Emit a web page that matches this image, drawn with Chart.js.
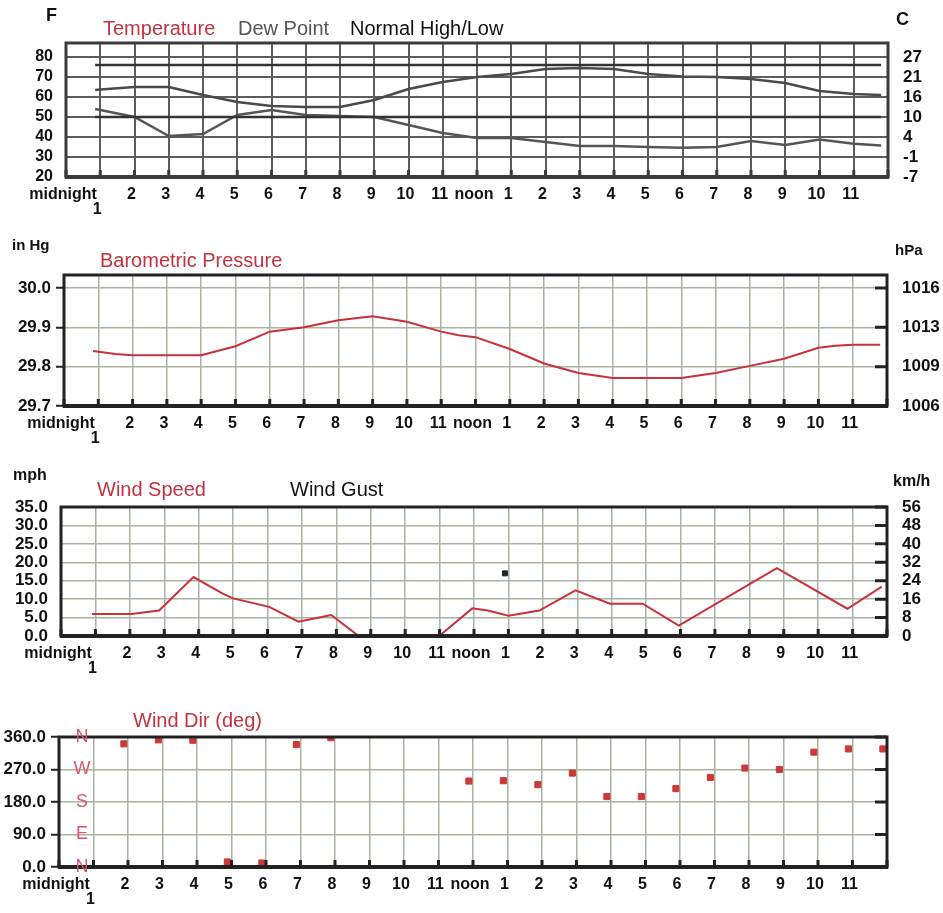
<!DOCTYPE html>
<html>
<head>
<meta charset="utf-8">
<title>Daily weather</title>
<script src="https://cdn.jsdelivr.net/npm/chart.js@4.4.1/dist/chart.umd.min.js"></script>
<style>
  body { margin: 0; background: #fff; }
  #page { position: relative; width: 943px; height: 913px; overflow: hidden; font-family: "Liberation Sans", Arial, sans-serif; }
  canvas { position: absolute; left: 0; }
  .lbl { position: absolute; white-space: nowrap; line-height: 1; }
  .unit { font-weight: bold; color: #111; }
  .red { color: #c2323f; }
</style>
</head>
<body>
<div id="page">
  <canvas id="temp" width="943" height="225" style="top:0px"></canvas>
  <canvas id="baro" width="943" height="225" style="top:230px"></canvas>
  <canvas id="wind" width="943" height="225" style="top:462px"></canvas>
  <canvas id="dir" width="943" height="221" style="top:692px"></canvas>

  <div class="lbl unit" style="left:46px;top:6px;font-size:18px">F</div>
  <div class="lbl red" style="left:103px;top:18px;font-size:20px">Temperature</div>
  <div class="lbl" style="left:238px;top:18px;font-size:20px;color:#555">Dew Point</div>
  <div class="lbl" style="left:350px;top:18px;font-size:20px;color:#111">Normal High/Low</div>
  <div class="lbl unit" style="left:896px;top:10px;font-size:18px">C</div>

  <div class="lbl unit" style="left:12px;top:237px;font-size:15px">in Hg</div>
  <div class="lbl red" style="left:100px;top:250px;font-size:20px">Barometric Pressure</div>
  <div class="lbl unit" style="left:895px;top:242px;font-size:15px">hPa</div>

  <div class="lbl unit" style="left:13px;top:467px;font-size:16px">mph</div>
  <div class="lbl red" style="left:97px;top:479px;font-size:20px">Wind Speed</div>
  <div class="lbl" style="left:290px;top:479px;font-size:20px;color:#111">Wind Gust</div>
  <div class="lbl unit" style="left:893px;top:473px;font-size:16px">km/h</div>

  <div class="lbl red" style="left:133px;top:710px;font-size:20px">Wind Dir (deg)</div>
</div>
<script>
// x axis: hours from midnight
const HOUR_LABELS = ['midnight', ['', '1'], '2', '3', '4', '5', '6', '7', '8', '9', '10', '11',
  'noon', '1', '2', '3', '4', '5', '6', '7', '8', '9', '10', '11', ''];

// temperature (F)
const TEMP_HOURS = [0.85, 1, 2, 3, 4, 5, 6, 7, 8, 9, 10, 11, 12, 13, 14, 15, 16, 17, 18, 19, 20, 21, 22, 23, 23.8];
const TEMPERATURE = [63.5, 63.8, 65, 65, 61, 57.5, 55.5, 55, 55, 58.5, 64, 67.5, 70, 71.5, 74, 74.5, 74, 71.5, 70.3, 70, 69, 67, 63, 61.5, 61];
const DEW_POINT = [54, 53.5, 50, 40.5, 41.5, 51, 53.5, 51, 50.5, 50, 46, 42, 39.5, 39.5, 37.5, 35.5, 35.5, 35, 34.6, 35, 38, 36, 38.8, 36.6, 35.8];
const NORMAL_HOURS = [0.85, 23.8];
const NORMAL_HIGH = [76, 76];
const NORMAL_LOW = [50, 50];
const TEMP_TICKS_F = [20, 30, 40, 50, 60, 70, 80];
const TEMP_TICKS_C = ['-7', '-1', '4', '10', '16', '21', '27'];

// barometric pressure (in Hg)
const BARO_HOURS = [0.85, 1.5, 2, 3, 4, 5, 6, 7, 8, 9, 10, 11, 11.5, 12, 13, 14, 15, 16, 17, 18, 19, 20, 21, 22, 22.5, 23, 23.8];
const BARO_INHG = [29.840, 29.832, 29.829, 29.829, 29.829, 29.852, 29.889, 29.900, 29.918, 29.928, 29.914, 29.889, 29.880,
  29.875, 29.845, 29.808, 29.784, 29.771, 29.771, 29.771, 29.784, 29.802, 29.820, 29.848, 29.853, 29.856, 29.856];
const BARO_TICKS = [29.7, 29.8, 29.9, 30.0];
const BARO_LABELS = ['29.7', '29.8', '29.9', '30.0'];
const HPA_LABELS = ['1006', '1009', '1013', '1016'];

// wind speed / gust (mph)
const WIND_HOURS = [0.9, 2.05, 2.85, 3.85, 4.7, 5, 6.05, 6.9, 7.5, 7.85, 8.65, 9.5, 11.05, 11.95, 12.4, 13, 13.9, 14.95, 15.95, 16.9, 17.95, 20.8, 22.85, 23.85];
const WIND_SPEED = [6, 6, 6.9, 16, 11.5, 10.2, 7.9, 3.9, 5, 5.7, 0, null, 0.5, 7.5, 6.9, 5.5, 6.9, 12.4, 8.75, 8.75, 2.8, 18.4, 7.4, 13.4];
const GUST_HOURS = [12.9];
const WIND_GUST = [17];
const MPH_TICKS = [0, 5, 10, 15, 20, 25, 30, 35];
const MPH_LABELS = ['0.0', '5.0', '10.0', '15.0', '20.0', '25.0', '30.0', '35.0'];
const KMH_LABELS = ['0', '8', '16', '24', '32', '40', '48', '56'];

// wind direction (deg)
const DIR_HOURS = [1.88, 2.88, 3.88, 4.88, 5.88, 6.88, 7.88, 11.88, 12.88, 13.88, 14.88, 15.88, 16.88, 17.88, 18.88, 19.88, 20.88, 21.88, 22.88, 23.88];
const WIND_DIR = [341, 352, 351, 14, 11, 339, 358, 238, 239, 228, 260, 195, 195, 217, 248, 274, 270, 318, 327, 327];
const DIR_TICKS = [0, 90, 180, 270, 360];
const DIR_LABELS = ['0.0', '90.0', '180.0', '270.0', '360.0'];
const COMPASS = ['N', 'E', 'S', 'W', 'N'];

Chart.defaults.font.family = '"Liberation Sans", Arial, sans-serif';
Chart.defaults.color = '#111';

const RED = '#c8303a';
const GREEN_GRID = '#a9b4a0';

function points(xs, ys) {
  return xs.map((x, i) => ({ x: x, y: ys[i] }));
}

// dark frame round the plot + little notches on the bottom (and right) edge
const framePlugin = {
  id: 'frame',
  afterDraw(chart, args, opts) {
    const { ctx, chartArea: a, scales } = chart;
    ctx.save();
    ctx.strokeStyle = opts.color;
    ctx.lineWidth = opts.width;
    ctx.strokeRect(a.left, a.top, a.right - a.left, a.bottom - a.top);
    ctx.lineWidth = 4;
    ctx.beginPath();
    ctx.moveTo(a.left - 1, a.bottom);
    ctx.lineTo(a.right + 1, a.bottom);
    ctx.stroke();
    ctx.lineWidth = 3;
    ctx.beginPath();
    scales.x.ticks.forEach(t => {
      const px = scales.x.getPixelForValue(t.value);
      ctx.moveTo(px, a.bottom);
      ctx.lineTo(px, a.bottom - 7);
    });
    if (opts.rightNotches) {
      scales.y.ticks.forEach(t => {
        const py = scales.y.getPixelForValue(t.value);
        ctx.moveTo(a.right, py);
        ctx.lineTo(a.right - 12, py);
      });
    }
    ctx.stroke();
    ctx.restore();
  }
};

const compassPlugin = {
  id: 'compass',
  afterDraw(chart) {
    const { ctx, chartArea: a, scales } = chart;
    ctx.save();
    ctx.fillStyle = '#d9556b';
    ctx.font = '18px "Liberation Sans", Arial, sans-serif';
    ctx.textAlign = 'center';
    ctx.textBaseline = 'middle';
    DIR_TICKS.forEach((v, i) => {
      ctx.fillText(COMPASS[i], a.left + 23, scales.y.getPixelForValue(v));
    });
    ctx.restore();
  }
};

function hourAxis(height, gridColor, gridWidth) {
  return {
    type: 'linear', min: 0, max: 24,
    afterBuildTicks: s => { s.ticks = HOUR_LABELS.map((_, i) => ({ value: i })); },
    afterFit: s => { s.height = height; },
    grid: { color: gridColor, lineWidth: gridWidth, drawTicks: false },
    border: { display: false },
    ticks: {
      autoSkip: false, maxRotation: 0, minRotation: 0, padding: 10, labelOffset: -3,
      font: { size: 16, weight: 'bold', lineHeight: 0.95 },
      callback: (v, i) => HOUR_LABELS[i]
    }
  };
}

function leftAxis(width, min, max, values, labels, grid, tickMarks, fontSize) {
  return {
    position: 'left', min: min, max: max,
    afterBuildTicks: s => { s.ticks = values.map(v => ({ value: v })); },
    afterFit: s => { s.width = width; },
    grid: Object.assign({ drawTicks: tickMarks, tickLength: 8, tickColor: '#222', tickWidth: 2 }, grid),
    border: { display: false },
    ticks: {
      autoSkip: false,
      padding: tickMarks ? 5 : 13,
      font: { size: fontSize, weight: 'bold' },
      callback: (v, i) => labels[i]
    }
  };
}

function rightAxis(width, min, max, values, labels) {
  return {
    position: 'right', min: min, max: max,
    afterBuildTicks: s => { s.ticks = values.map(v => ({ value: v })); },
    afterFit: s => { s.width = width; },
    grid: { drawOnChartArea: false, drawTicks: false },
    border: { display: false },
    ticks: {
      autoSkip: false,
      padding: 15,
      font: { size: 17, weight: 'bold' },
      callback: (v, i) => labels[i]
    }
  };
}

function baseOptions(top, right, scales, frame) {
  return {
    responsive: false,
    animation: false,
    layout: { padding: { top: top, left: 0, right: right, bottom: 0 } },
    elements: { point: { radius: 0 }, line: { tension: 0 } },
    plugins: { legend: { display: false }, tooltip: { enabled: false }, frame: frame },
    scales: scales
  };
}

// Temperature
new Chart(document.getElementById('temp'), {
  type: 'line',
  data: {
    datasets: [
      { label: 'Normal High', data: points(NORMAL_HOURS, NORMAL_HIGH), borderColor: '#333', borderWidth: 2.5 },
      { label: 'Normal Low', data: points(NORMAL_HOURS, NORMAL_LOW), borderColor: '#333', borderWidth: 2.5 },
      { label: 'Dew Point', data: points(TEMP_HOURS, DEW_POINT), borderColor: '#555', borderWidth: 2.5 },
      { label: 'Temperature', data: points(TEMP_HOURS, TEMPERATURE), borderColor: '#4a4a4a', borderWidth: 2.5 }
    ]
  },
  options: baseOptions(43, 0, {
    x: hourAxis(48, '#5c5c5c', 2),
    y: leftAxis(66, 20, 87, TEMP_TICKS_F, TEMP_TICKS_F.map(String), { color: '#5c5c5c', lineWidth: 2 }, false, 16),
    yC: rightAxis(55, 20, 87, TEMP_TICKS_F, TEMP_TICKS_C)
  }, { color: '#3a3a3a', width: 3, rightNotches: false }),
  plugins: [framePlugin]
});

// Barometric pressure
new Chart(document.getElementById('baro'), {
  type: 'line',
  data: {
    datasets: [
      { label: 'Barometric Pressure', data: points(BARO_HOURS, BARO_INHG), borderColor: RED, borderWidth: 2 }
    ]
  },
  options: baseOptions(45, 0, {
    x: hourAxis(49, GREEN_GRID, 1.5),
    y: leftAxis(64, 29.7, 30.033, BARO_TICKS, BARO_LABELS, { color: GREEN_GRID, lineWidth: 1.5 }, true, 17),
    yH: rightAxis(56, 29.7, 30.033, BARO_TICKS, HPA_LABELS)
  }, { color: '#222', width: 3, rightNotches: true }),
  plugins: [framePlugin]
});

// Wind speed / gust
new Chart(document.getElementById('wind'), {
  type: 'line',
  data: {
    datasets: [
      { label: 'Wind Speed', data: points(WIND_HOURS, WIND_SPEED), borderColor: RED, borderWidth: 2, spanGaps: false },
      { label: 'Wind Gust', data: points(GUST_HOURS, WIND_GUST), showLine: false, pointStyle: 'rect',
        pointRadius: 3.5, backgroundColor: '#222', borderColor: '#222' }
    ]
  },
  options: baseOptions(45, 0, {
    x: hourAxis(51, GREEN_GRID, 1.5),
    y: leftAxis(61, 0, 35, MPH_TICKS, MPH_LABELS, { color: GREEN_GRID, lineWidth: 1.5 }, false, 17),
    yK: rightAxis(56, 0, 35, MPH_TICKS, KMH_LABELS)
  }, { color: '#222', width: 3, rightNotches: true }),
  plugins: [framePlugin]
});

// Wind direction
new Chart(document.getElementById('dir'), {
  type: 'line',
  data: {
    datasets: [
      { label: 'Wind Dir (deg)', data: points(DIR_HOURS, WIND_DIR), showLine: false, pointStyle: 'rect',
        pointRadius: 4.3, backgroundColor: '#cc3838', borderColor: '#cc3838' }
    ]
  },
  options: baseOptions(45, 56, {
    x: hourAxis(46, GREEN_GRID, 1.5),
    y: leftAxis(59, 0, 360, DIR_TICKS, DIR_LABELS, { color: GREEN_GRID, lineWidth: 1.5 }, true, 17)
  }, { color: '#222', width: 3, rightNotches: true }),
  plugins: [framePlugin, compassPlugin]
});
</script>
</body>
</html>
